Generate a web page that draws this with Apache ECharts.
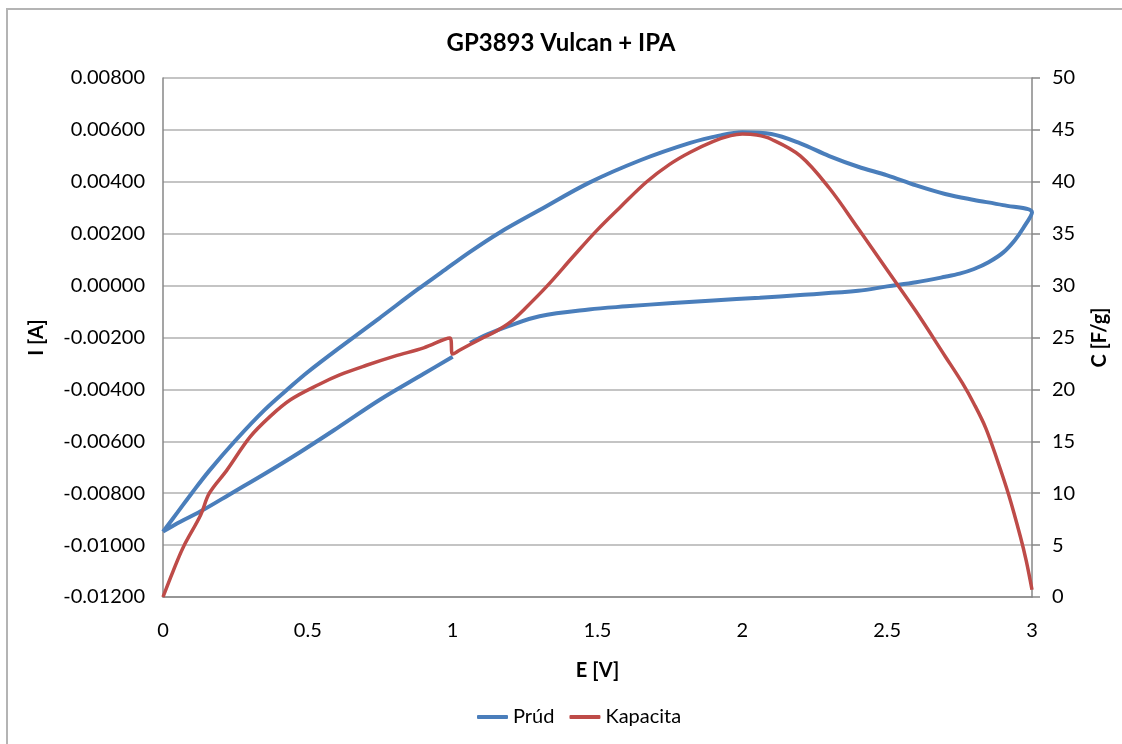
<!DOCTYPE html>
<html>
<head>
<meta charset="utf-8">
<script src="https://cdn.jsdelivr.net/npm/echarts@6/dist/echarts.min.js"></script>
<style>
  html, body { margin: 0; padding: 0; background: #fff; }
  #chart { width: 1122px; height: 744px; }
</style>
</head>
<body>
<div id="chart"></div>
<script>
// Prúd: upper branch 0 -> 3 V, lower branch 3 -> ~1.06 V, gap, then 1 -> 0 V
const currentE = [
  0, 0.05, 0.1, 0.16, 0.25, 0.35, 0.44, 0.5, 0.61, 0.75, 0.88, 0.96, 1.06, 1.16, 1.3, 1.47, 1.65, 1.82, 1.92, 2.0, 2.1, 2.2, 2.3, 2.4, 2.5, 2.6, 2.7, 2.8, 2.9, 3.0,
  2.97, 2.94, 2.9, 2.85, 2.8, 2.75, 2.7, 2.6, 2.5, 2.4, 2.2, 2.06, 1.9, 1.76, 1.6, 1.47, 1.3, 1.19, 1.12, 1.06,
  1.03,
  1.0, 0.9, 0.75, 0.6, 0.47, 0.35, 0.24, 0.13, 0.06, 0
]
const currentI = [
  -0.00948, -0.00874, -0.00799, -0.00713, -0.00597, -0.0048, -0.0039, -0.00333, -0.00239, -0.00123, -0.00014, 0.0005, 0.0013, 0.00203, 0.00291, 0.00396, 0.00484, 0.0055, 0.00578, 0.00591, 0.00584, 0.00548, 0.00499, 0.00458, 0.00425, 0.00386, 0.00353, 0.0033, 0.0031, 0.00282,
  0.00222, 0.00174, 0.00127, 0.0009, 0.00064, 0.00046, 0.00034, 0.00013, -0.00003, -0.0002, -0.00036, -0.00047, -0.00057, -0.00067, -0.0008, -0.00092, -0.00118, -0.00157, -0.00188, -0.00221,
  null,
  -0.00274, -0.0034, -0.00439, -0.0055, -0.00644, -0.00726, -0.00798, -0.0087, -0.0091, -0.00948
]

// Kapacita
const capE = [
  0, 0.035, 0.07, 0.13, 0.16, 0.22, 0.3, 0.37, 0.44, 0.54, 0.61, 0.7, 0.8, 0.9, 0.99, 1.0, 1.025, 1.1, 1.15, 1.2, 1.25, 1.324, 1.416, 1.497, 1.58, 1.67, 1.75, 1.82, 1.9, 1.96, 2.0, 2.05, 2.1, 2.2, 2.3, 2.4, 2.5, 2.6, 2.7, 2.76, 2.8, 2.84, 2.88, 2.92, 2.96, 2.98, 3.0
]
const capC = [
  0, 2.5, 4.8, 7.9, 10.0, 12.2, 15.4, 17.4, 19.0, 20.5, 21.4, 22.3, 23.2, 24.0, 24.95, 23.4, 23.8, 24.9, 25.6, 26.5, 27.8, 29.9, 32.8, 35.3, 37.6, 40.0, 41.7, 42.85, 43.9, 44.45, 44.6, 44.5, 44.1, 42.5, 39.4, 35.5, 31.5, 27.5, 23.2, 20.6, 18.6, 16.3, 13.2, 9.8, 5.8, 3.5, 0.7
]

const FONT = 'Lato, "Open Sans", sans-serif'

const chart = echarts.init(document.getElementById('chart'))

chart.setOption({
  animation: false,
  textStyle: { fontFamily: FONT, color: '#000' },
  title: {
    text: 'GP3893 Vulcan + IPA',
    left: 'center',
    top: 26,
    textStyle: { fontFamily: FONT, fontSize: 24, fontWeight: 'bold', color: '#000' }
  },
  graphic: [{
    type: 'rect',
    shape: { x: 7, y: 9, width: 1200, height: 800 },
    style: { fill: 'none', stroke: '#b4b4b4', lineWidth: 2 },
    silent: true
  }],
  legend: {
    bottom: 12,
    left: 472,
    itemWidth: 31,
    itemHeight: 4,
    itemGap: 15,
    icon: 'roundRect',
    textStyle: { fontFamily: FONT, fontSize: 20, color: '#000' },
    data: ['Prúd', 'Kapacita']
  },
  grid: { left: 163, right: 90, top: 78, bottom: 147 },
  xAxis: {
    type: 'value',
    min: 0,
    max: 3,
    interval: 0.5,
    name: 'E [V]',
    nameLocation: 'middle',
    nameGap: 64,
    nameTextStyle: { fontFamily: FONT, fontSize: 20, fontWeight: 'bold', color: '#000' },
    axisLine: { onZero: false, lineStyle: { color: '#878787', width: 1.5 } },
    axisTick: { show: false },
    splitLine: { show: false },
    axisLabel: { fontSize: 20, color: '#000', margin: 24 }
  },
  yAxis: [{
    type: 'value',
    position: 'left',
    min: -0.012,
    max: 0.008,
    interval: 0.002,
    name: 'I [A]',
    nameLocation: 'middle',
    nameRotate: 90,
    nameGap: 116,
    nameTextStyle: { fontFamily: FONT, fontSize: 20, fontWeight: 'bold', color: '#000' },
    axisLine: { show: true, onZero: false, lineStyle: { color: '#878787', width: 1.5 } },
    axisTick: { show: false },
    splitLine: { lineStyle: { color: '#b0b0b0', width: 1.5 } },
    axisLabel: { fontSize: 20, color: '#000', margin: 18, formatter: (v) => v.toFixed(5) }
  }, {
    type: 'value',
    position: 'right',
    min: 0,
    max: 50,
    interval: 5,
    name: 'C [F/g]',
    nameLocation: 'middle',
    nameRotate: 90,
    nameGap: 58,
    nameTextStyle: { fontFamily: FONT, fontSize: 20, fontWeight: 'bold', color: '#000' },
    axisLine: { show: true, onZero: false, lineStyle: { color: '#878787', width: 1.5 } },
    axisTick: { show: true, inside: false, length: 8, lineStyle: { color: '#878787', width: 1.5 } },
    splitLine: { show: false },
    axisLabel: { fontSize: 20, color: '#000', margin: 20 }
  }],
  series: [{
    name: 'Prúd',
    type: 'line',
    yAxisIndex: 0,
    showSymbol: false,
    smooth: 0.35,
    connectNulls: false,
    color: '#4a7ebb',
    lineStyle: { width: 4, color: '#4a7ebb' },
    data: currentE.map((e, i) => [e, currentI[i] === null ? '-' : currentI[i]])
  }, {
    name: 'Kapacita',
    type: 'line',
    yAxisIndex: 1,
    showSymbol: false,
    smooth: 0.35,
    color: '#be4b48',
    lineStyle: { width: 3.5, color: '#be4b48' },
    data: capE.map((e, i) => [e, capC[i]])
  }]
})
</script>
</body>
</html>
